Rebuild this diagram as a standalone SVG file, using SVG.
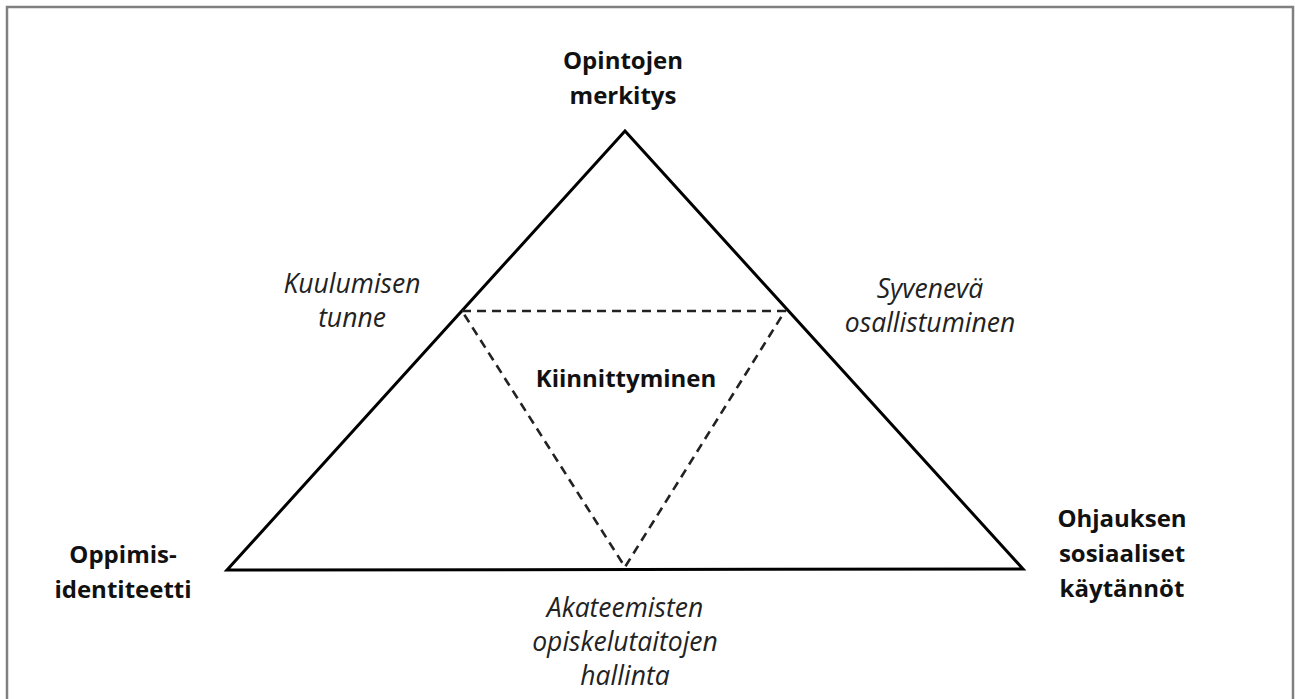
<svg xmlns="http://www.w3.org/2000/svg" width="1295" height="699" viewBox="0 0 1295 699">
<style>
.b{font-family:"Open Sans","Liberation Sans",sans-serif;font-weight:bold;font-size:24px;fill:#111;text-anchor:middle}
.i{font-family:"Open Sans","Liberation Sans",sans-serif;font-style:italic;font-size:26.5px;fill:#222;text-anchor:middle}
.tri{fill:none;stroke:#000;stroke-width:3;stroke-linejoin:miter}
.dash{fill:none;stroke:#222;stroke-width:2.6;stroke-dasharray:9 6}
</style>
<rect width="1295" height="699" fill="#fff"/>
<path d="M7,700 V7 H1293 V700" fill="none" stroke="#808080" stroke-width="2.5"/>
<g id="connectors">
<polygon class="tri" points="625,131 227,570 1023,569"/>
<polygon class="dash" points="462,311 785,311 625,567"/>
</g>
<g id="node-top"><text class="b" x="623" y="69">Opintojen</text><text class="b" x="623" y="104">merkitys</text></g>
<g id="node-left"><text class="b" x="123" y="563">Oppimis-</text><text class="b" x="123" y="598">identiteetti</text></g>
<g id="node-right"><text class="b" x="1122" y="527">Ohjauksen</text><text class="b" x="1122" y="562">sosiaaliset</text><text class="b" x="1122" y="597">käytännöt</text></g>
<g id="node-center"><text class="b" x="626" y="387">Kiinnittyminen</text></g>
<g id="label-left"><text class="i" x="352" y="293">Kuulumisen</text><text class="i" x="352" y="327">tunne</text></g>
<g id="label-right"><text class="i" x="930" y="298">Syvenevä</text><text class="i" x="930" y="332">osallistuminen</text></g>
<g id="label-bottom"><text class="i" x="625" y="617">Akateemisten</text><text class="i" x="625" y="651">opiskelutaitojen</text><text class="i" x="625" y="685">hallinta</text></g>
</svg>
